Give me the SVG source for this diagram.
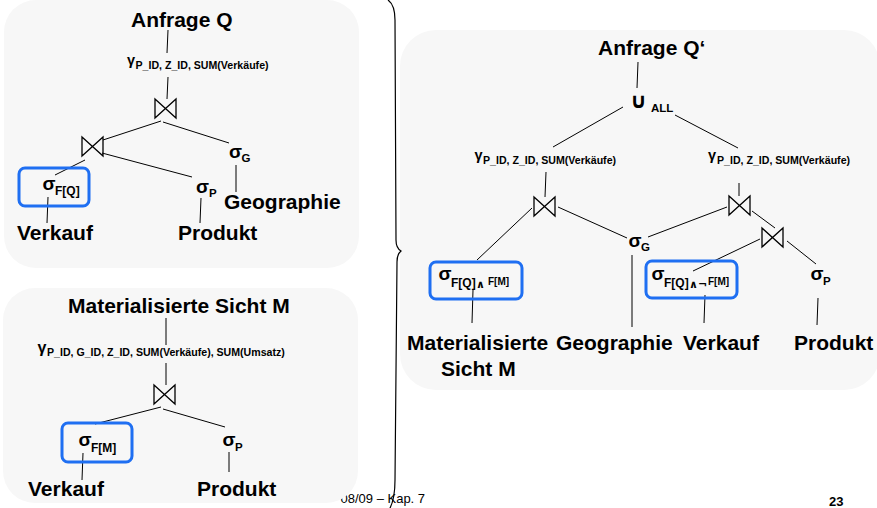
<svg xmlns="http://www.w3.org/2000/svg" width="877" height="508" viewBox="0 0 877 508">
<defs>
<style>
.panel{fill:#f7f7f7}
text{font-family:"Liberation Sans",Arial,"DejaVu Sans",sans-serif;font-weight:bold;fill:#000}
.big{font-size:21px}
.op{font-size:19px}
.gam{font-size:14.5px}
.sub{font-size:10.6px}
.s12{font-size:12px}
.s11{font-size:11.5px}
.s10{font-size:10px}
.sym{font-size:11px;font-family:"DejaVu Sans",sans-serif}
.cup{font-size:21px;font-family:"DejaVu Sans",sans-serif}
.sel{fill:none;stroke:#1f6ff2;stroke-width:3}
#connectors line{stroke:#000;stroke-width:1}
.bt{fill:none;stroke:#000;stroke-width:1.3;stroke-linejoin:miter}
.foot{font-weight:normal;font-size:13px}
.brace{fill:none;stroke:#000;stroke-width:1.2}
</style>
<path id="bowtie" class="bt" d="M0,0 L21,19 L21,0 L0,19 Z"/>
</defs>

<rect width="877" height="508" fill="#fff"/>

<!-- footer (partly covered by the lower-left panel) -->
<g id="footer">
  <text class="foot" x="340.5" y="503">08/09 – Kap. 7</text>
  <text x="829" y="506" font-size="13px">23</text>
</g>

<!-- background panels -->
<g id="panels">
  <rect class="panel" x="4" y="0" width="355" height="268" rx="32"/>
  <rect class="panel" x="3" y="288" width="355" height="215" rx="32"/>
  <rect class="panel" x="400" y="30" width="480" height="360" rx="36"/>
</g>

<!-- brace joining the two left plans -->
<path class="brace" d="M388,0 Q395,5 395,20 L396,240 Q396,248 401,251 Q397,254 397,262 L395,480 Q395,500 389,510"/>

<!-- connectors -->
<g id="connectors">
  <!-- query Q -->
  <line x1="168" y1="30" x2="167" y2="53"/>
  <line x1="168" y1="77" x2="167" y2="99"/>
  <line x1="161" y1="121" x2="103" y2="140"/>
  <line x1="163" y1="122" x2="229" y2="143"/>
  <line x1="85" y1="160" x2="55" y2="175"/>
  <line x1="102" y1="153" x2="192" y2="177"/>
  <line x1="236" y1="165" x2="236" y2="192"/>
  <line x1="201" y1="198" x2="200" y2="223"/>
  <line x1="48" y1="197" x2="47" y2="223"/>
  <!-- view M -->
  <line x1="166" y1="318" x2="166" y2="345"/>
  <line x1="166" y1="363" x2="166" y2="385"/>
  <line x1="161" y1="407" x2="95" y2="424"/>
  <line x1="163" y1="409" x2="225" y2="427"/>
  <line x1="83" y1="453" x2="82" y2="480"/>
  <line x1="229" y1="452" x2="229" y2="472"/>
  <!-- rewritten query Q' -->
  <line x1="638" y1="62" x2="637" y2="88"/>
  <line x1="623" y1="107" x2="553" y2="147"/>
  <line x1="675" y1="115" x2="738" y2="148"/>
  <line x1="546" y1="172" x2="545" y2="197"/>
  <line x1="739" y1="183" x2="739" y2="196"/>
  <line x1="532" y1="208" x2="477" y2="260"/>
  <line x1="558" y1="207" x2="627" y2="238"/>
  <line x1="727" y1="207" x2="648" y2="237"/>
  <line x1="752" y1="211" x2="775" y2="228"/>
  <line x1="760" y1="239" x2="693" y2="271"/>
  <line x1="787" y1="241" x2="816" y2="264"/>
  <line x1="632" y1="255" x2="632" y2="327"/>
  <line x1="473" y1="290" x2="472" y2="323"/>
  <line x1="705" y1="295" x2="704" y2="323"/>
  <line x1="818" y1="298" x2="817" y2="325"/>
</g>

<!-- ===== query Q ===== -->
<g id="q-root"><text class="big" x="131" y="27">Anfrage Q</text></g>
<g id="q-group"><text class="gam" x="127" y="65">γ<tspan class="sub" x="135.5" y="68.5">P_ID, Z_ID, SUM(Verkäufe)</tspan></text></g>
<g id="q-join1"><use href="#bowtie" x="155" y="99"/></g>
<g id="q-join2"><use href="#bowtie" x="82" y="137"/></g>
<g id="q-selG"><text class="op" x="229" y="158">σ<tspan class="s11" x="241.5" y="162">G</tspan></text></g>
<g id="q-selP"><text class="op" x="196" y="193">σ<tspan class="s11" x="209" y="197">P</tspan></text></g>
<g id="q-selF">
  <rect class="sel" x="19" y="168" width="70" height="38" rx="6"/>
  <text class="op" x="42.5" y="190">σ<tspan class="s12" x="55" y="195">F[Q]</tspan></text>
</g>
<g id="q-geo"><text class="big" x="224" y="209">Geographie</text></g>
<g id="q-prod"><text class="big" x="178" y="240">Produkt</text></g>
<g id="q-verk"><text class="big" x="17" y="240">Verkauf</text></g>

<!-- ===== materialized view M ===== -->
<g id="m-root"><text class="big" x="68" y="313">Materialisierte Sicht M</text></g>
<g id="m-group"><text class="gam" x="37.5" y="353" style="font-size:16px">γ<tspan class="sub" x="47" y="356">P_ID, G_ID, Z_ID, SUM(Verkäufe), SUM(Umsatz)</tspan></text></g>
<g id="m-join"><use href="#bowtie" x="154" y="385"/></g>
<g id="m-selF">
  <rect class="sel" x="62" y="423" width="70" height="39" rx="6"/>
  <text class="op" x="78.5" y="446">σ<tspan class="s12" x="91" y="452">F[M]</tspan></text>
</g>
<g id="m-selP"><text class="op" x="222.5" y="446">σ<tspan class="s11" x="235" y="451">P</tspan></text></g>
<g id="m-verk"><text class="big" x="28" y="496">Verkauf</text></g>
<g id="m-prod"><text class="big" x="197" y="496">Produkt</text></g>

<!-- ===== rewritten query Q' ===== -->
<g id="r-root"><text class="big" x="598" y="55">Anfrage Q‘</text></g>
<g id="r-union"><text class="cup" x="630" y="108">∪<tspan class="s11" style="font-family:'Liberation Sans',Arial,sans-serif" x="651" y="112">ALL</tspan></text></g>
<g id="r-groupL"><text class="gam" x="474.5" y="160">γ<tspan class="sub" x="483" y="164">P_ID, Z_ID, SUM(Verkäufe)</tspan></text></g>
<g id="r-groupR"><text class="gam" x="708" y="160">γ<tspan class="sub" x="717" y="164">P_ID, Z_ID, SUM(Verkäufe)</tspan></text></g>
<g id="r-joinL"><use href="#bowtie" x="534" y="197"/></g>
<g id="r-joinR1"><use href="#bowtie" x="729" y="196"/></g>
<g id="r-joinR2"><use href="#bowtie" x="762" y="228"/></g>
<g id="r-selG"><text class="op" x="628.5" y="247">σ<tspan class="s11" x="641" y="251">G</tspan></text></g>
<g id="r-selM">
  <rect class="sel" x="430" y="262" width="92" height="37" rx="6"/>
  <text class="op" x="438.5" y="280">σ<tspan class="s12" x="451" y="287">F[Q]</tspan><tspan class="sym" x="476" y="288">∧</tspan><tspan class="s10" x="488" y="285">F[M]</tspan></text>
</g>
<g id="r-selV">
  <rect class="sel" x="646" y="261" width="91" height="37" rx="6"/>
  <text class="op" x="651.5" y="280">σ<tspan class="s12" x="664" y="287">F[Q]</tspan><tspan class="sym" x="689" y="288">∧¬</tspan><tspan class="s10" x="708" y="285">F[M]</tspan></text>
</g>
<g id="r-selP"><text class="op" x="810.5" y="280">σ<tspan class="s11" x="823" y="285">P</tspan></text></g>
<g id="r-mat"><text class="big" x="407" y="350">Materialisierte</text><text class="big" x="441" y="376">Sicht M</text></g>
<g id="r-geo"><text class="big" x="556" y="350">Geographie</text></g>
<g id="r-verk"><text class="big" x="683" y="350">Verkauf</text></g>
<g id="r-prod"><text class="big" x="794" y="350">Produkt</text></g>
</svg>
